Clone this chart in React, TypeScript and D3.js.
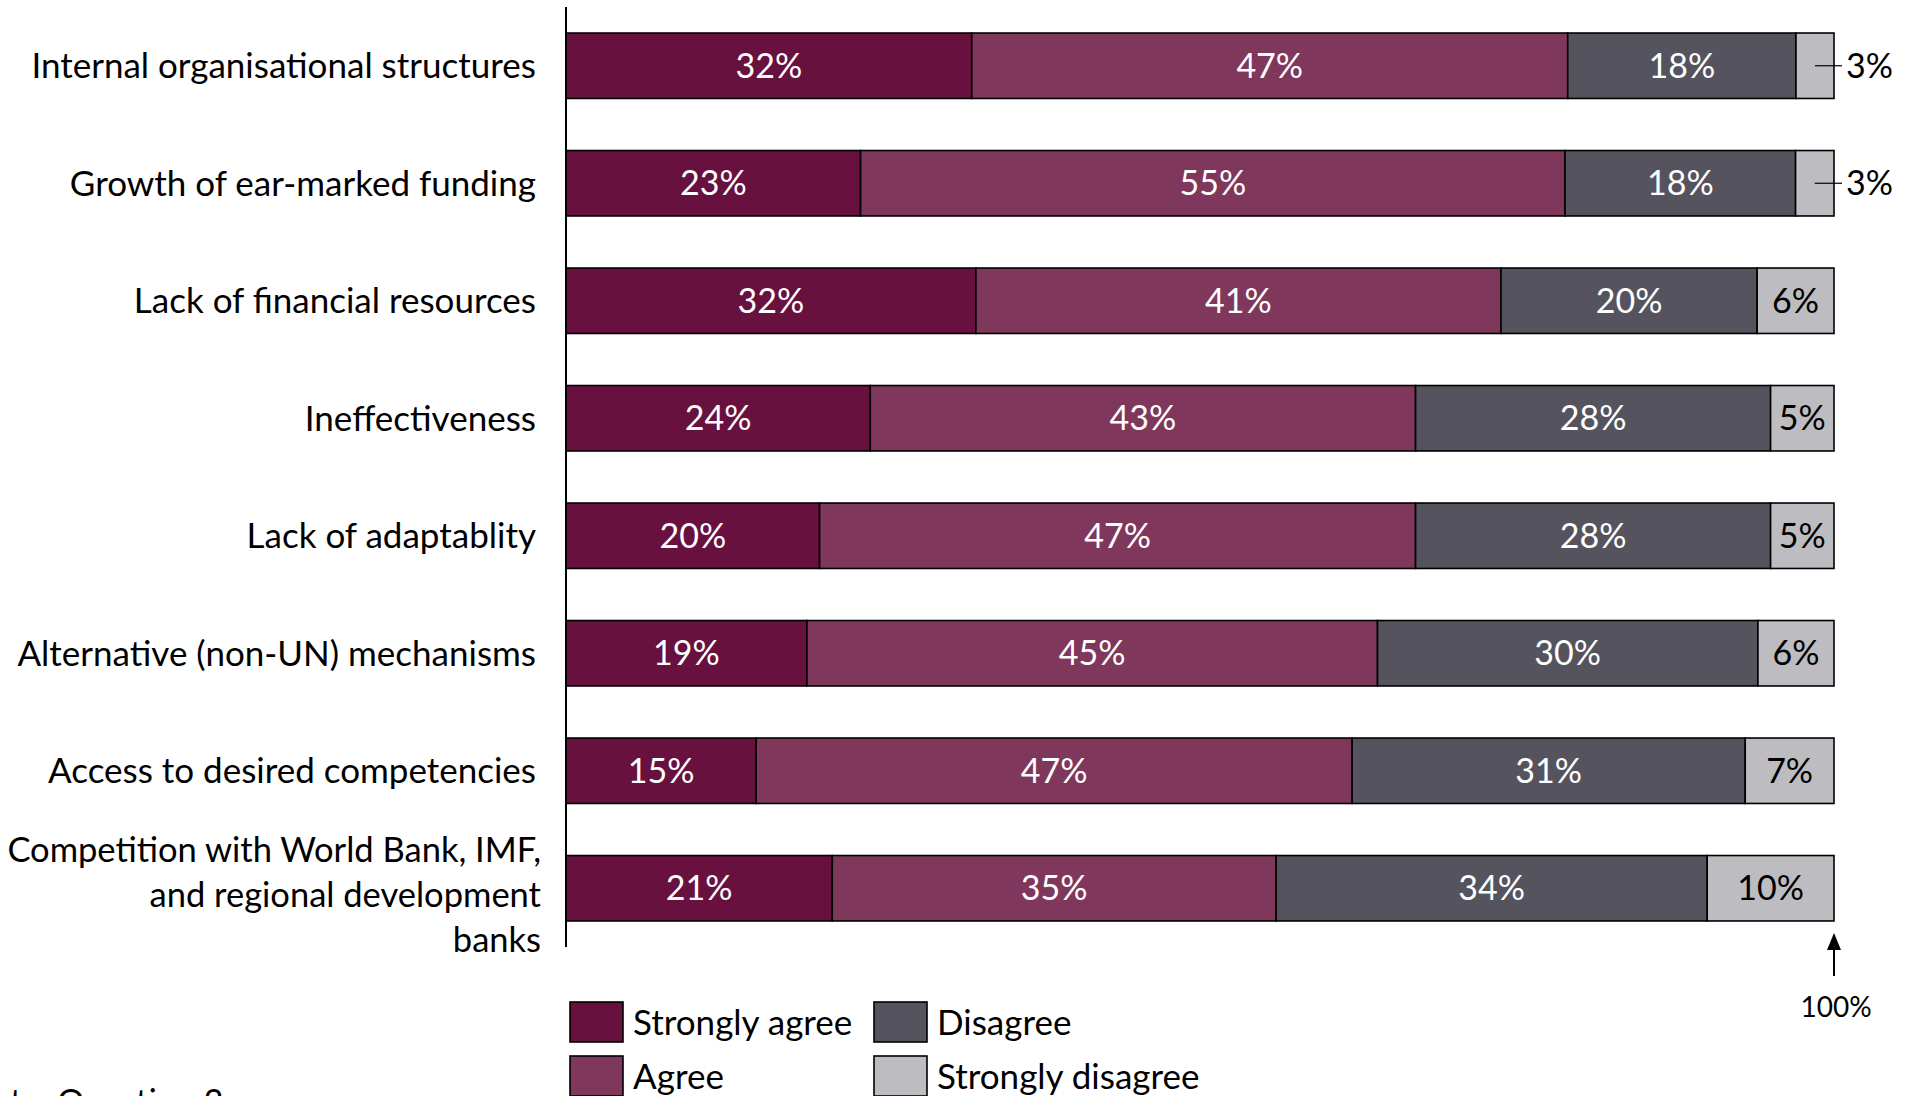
import React from "react";
import * as d3 from "d3";

const categories = [
  "Internal organisational structures",
  "Growth of ear-marked funding",
  "Lack of financial resources",
  "Ineffectiveness",
  "Lack of adaptablity",
  "Alternative (non-UN) mechanisms",
  "Access to desired competencies",
  "Competition with World Bank, IMF,|and regional development|banks",
];

const seriesNames = ["Strongly agree", "Agree", "Disagree", "Strongly disagree"];
const stronglyAgree = [32, 23, 32, 24, 20, 19, 15, 21];
const agree = [47, 55, 41, 43, 47, 45, 47, 35];
const disagree = [18, 18, 20, 28, 28, 30, 31, 34];
const stronglyDisagree = [3, 3, 6, 5, 5, 6, 7, 10];
const seriesColors = ["#68103E", "#7F375B", "#55545E", "#BDBCC1"];
const labelColors = ["#ffffff", "#ffffff", "#ffffff", "#000000"];

const W = 1914;
const H = 1096;
const FONT = "Lato, 'Open Sans', sans-serif";

export default function App() {
  const x = d3.scaleLinear().domain([0, 1]).range([566, 1834]);
  const y = d3
    .scaleBand<string>()
    .domain(categories)
    .range([7, 947])
    .paddingInner(0.443)
    .paddingOuter(0.2215);

  const series = [stronglyAgree, agree, disagree, stronglyDisagree];
  const rows = categories.map((c, i) => {
    const vals = series.map((s) => s[i]);
    const total = d3.sum(vals);
    const cum = d3.cumsum(vals);
    return {
      cat: c,
      segs: vals.map((v, k) => ({
        v,
        k,
        x0: (cum[k] - v) / total,
        x1: cum[k] / total,
      })),
    };
  });
  const bw = y.bandwidth();

  return (
    <svg
      width={W}
      height={H}
      style={{ position: "absolute", left: 0, top: 0, background: "#fff" }}
      fontFamily={FONT}
    >
      {rows.map((r) => {
        const y0 = y(r.cat)!;
        const cy = y0 + bw / 2;
        const lines = r.cat.split("|");
        return (
          <g key={r.cat}>
            {lines.length === 1 ? (
              <text x={536} y={cy} dy="0.36em" textAnchor="end" fontSize={35} fill="#000">
                {lines[0]}
              </text>
            ) : (
              lines.map((l, li) => (
                <text
                  key={li}
                  x={541}
                  y={cy - 26 + li * 45}
                  textAnchor="end"
                  fontSize={34.5}
                  fill="#000"
                >
                  {l}
                </text>
              ))
            )}
            {r.segs.map((s) => (
              <rect
                key={s.k}
                x={x(s.x0)}
                y={y0}
                width={x(s.x1) - x(s.x0)}
                height={bw}
                fill={seriesColors[s.k]}
                stroke="#000"
                strokeWidth={1.6}
              />
            ))}
            {r.segs.map((s) =>
              s.v >= 4 ? (
                <text
                  key={"t" + s.k}
                  x={(x(s.x0) + x(s.x1)) / 2}
                  y={cy}
                  dy="0.36em"
                  textAnchor="middle"
                  fontSize={34}
                  fill={labelColors[s.k]}
                >
                  {s.v + "%"}
                </text>
              ) : (
                <g key={"t" + s.k}>
                  <line
                    x1={(x(s.x0) + x(s.x1)) / 2}
                    x2={x(1) + 8}
                    y1={cy}
                    y2={cy}
                    stroke="#000"
                    strokeWidth={1.2}
                  />
                  <text x={x(1) + 12} y={cy} dy="0.36em" fontSize={34} fill="#000">
                    {s.v + "%"}
                  </text>
                </g>
              )
            )}
          </g>
        );
      })}

      <line x1={566} x2={566} y1={7} y2={947} stroke="#000" strokeWidth={2} />

      {/* 100% marker */}
      <line x1={x(1)} x2={x(1)} y1={976} y2={948} stroke="#000" strokeWidth={2} />
      <path d={`M${x(1)},933 L${x(1) - 7},950 L${x(1) + 7},950 Z`} fill="#000" />
      <text x={x(1) + 2} y={1017} textAnchor="middle" fontSize={28} fill="#000">
        100%
      </text>

      {/* legend */}
      {seriesNames.map((n, i) => {
        const col = i < 2 ? 0 : 1;
        const row = i % 2;
        const lx = col === 0 ? 570 : 874;
        const ly = 1002 + row * 54;
        return (
          <g key={n}>
            <rect x={lx} y={ly} width={53} height={40} fill={seriesColors[i]} stroke="#000" strokeWidth={1.6} />
            <text x={lx + 63} y={ly + 20} dy="0.36em" fontSize={35} fill="#000">
              {n}
            </text>
          </g>
        );
      })}

      <text x={10} y={1114} fontSize={34} fill="#000">
        te: Question 2
      </text>
    </svg>
  );
}
